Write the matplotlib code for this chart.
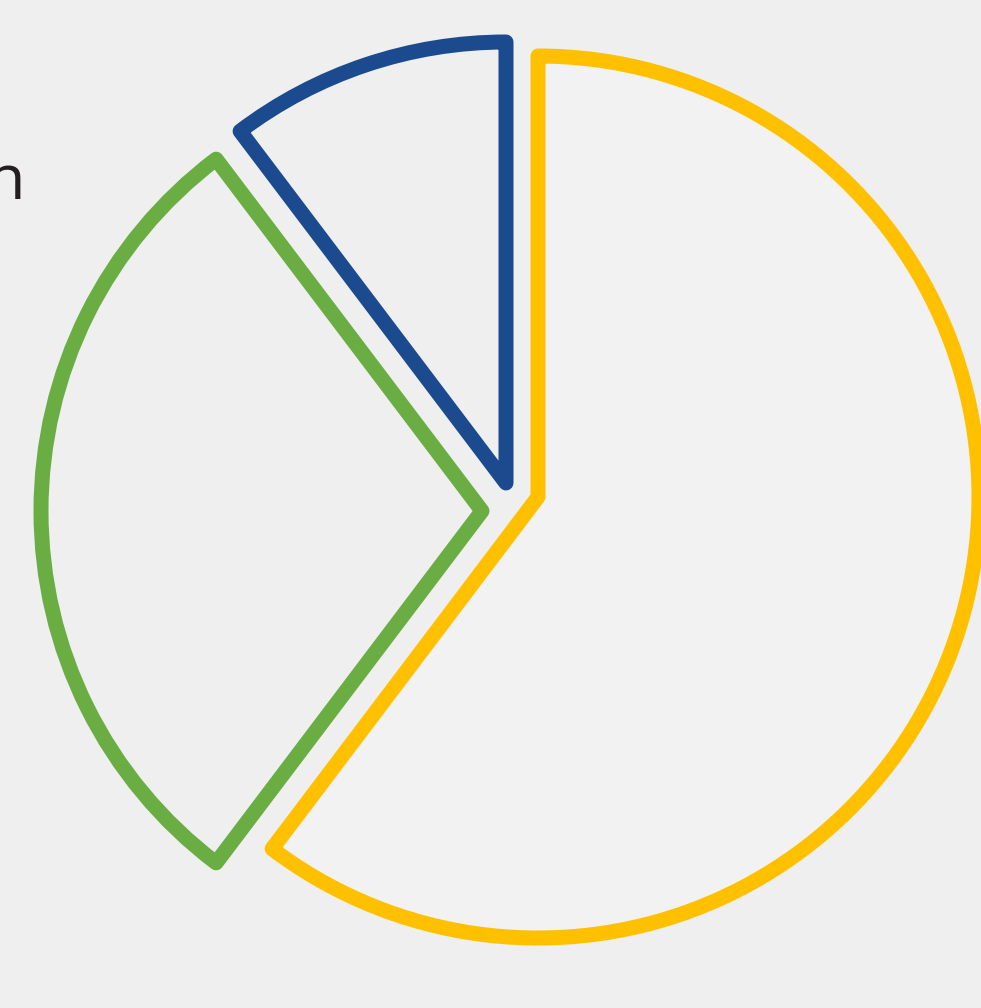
import matplotlib.pyplot as plt

# Data
labels = ["Yellow", "Green", "Blue"]
shares = [60.3, 29.4, 10.3]
colors = ["#FFC000", "#6AAD43", "#1B4A8F"]
faces = ["#F2F2F2", "#EFEFEF", "#EFEFEF"]
title = "Distribution"

# Layout (pixel units, y up)
W, H = 981, 1008
center = (538, 511)
radius = 441
# per-slice offsets from the pie centre
offsets = [(0, 0), (-56, -14), (-32, 14)]

fig = plt.figure(figsize=(W / 100, H / 100), dpi=100, facecolor="#EFEFEF")
ax = fig.add_axes([0, 0, 1, 1])
ax.set_facecolor("#EFEFEF")

wedges, _ = ax.pie(shares, startangle=90, counterclock=False,
                   center=center, radius=radius,
                   wedgeprops=dict(linewidth=10.8, joinstyle="round"))

for w, col, fc, (dx, dy) in zip(wedges, colors, faces, offsets):
    w.set_edgecolor(col)
    w.set_facecolor(fc)
    w.set_center((center[0] + dx, center[1] + dy))

ax.text(26, H - 199, title, ha="right", va="baseline",
        fontsize=45.7, family="Open Sans", color="#231F20")

ax.set_xlim(0, W)
ax.set_ylim(0, H)
ax.set_aspect("equal")
ax.axis("off")

plt.savefig("out.png", dpi=100, facecolor="#EFEFEF")
